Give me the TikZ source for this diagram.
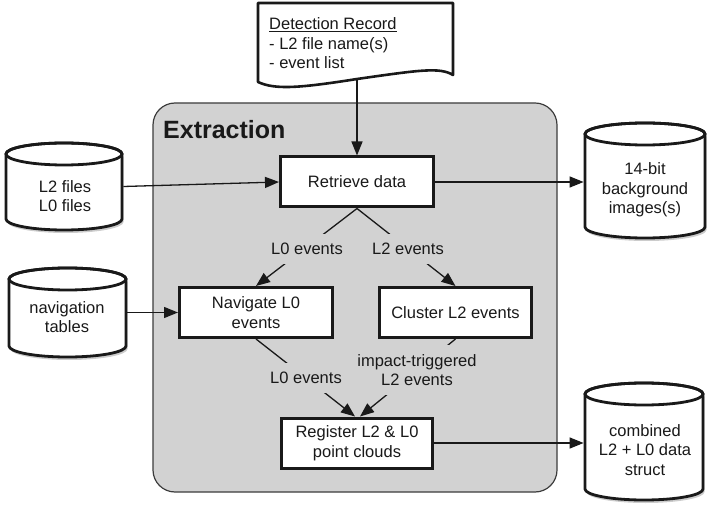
\documentclass[tikz,border=0pt]{standalone}
\usepackage{fontspec}
\setmainfont{Liberation Sans}
\usetikzlibrary{arrows.meta,shadows}
\definecolor{extbg}{RGB}{210,210,210}
\definecolor{ink}{RGB}{25,25,25}
\definecolor{extline}{RGB}{60,60,60}
\tikzset{
  txt/.style={font=\fontsize{16.5}{19.5}\selectfont, text=ink},
  extbox/.style={draw=extline, fill=extbg, line width=1.2pt, rounded corners=22pt, inner sep=0pt},
  procbox/.style={txt, draw=ink, line width=3pt, fill=white, minimum width=153pt, minimum height=50pt, align=center, inner sep=2pt},
  conn/.style={draw=ink, line width=1.3pt, -{Triangle[length=14pt,width=11pt]}},
  lbl/.style={txt, fill=extbg, inner xsep=1pt, inner ysep=9pt, align=center},
  cylfill/.style={fill=white, draw=ink, line width=2.8pt, line join=round,
    drop shadow={shadow xshift=1.5pt, shadow yshift=-3pt, opacity=0.2, fill=black}},
  cylline/.style={draw=ink, line width=2.8pt},
  cylanchor/.style={draw=none, inner sep=0pt, outer sep=1.4pt},
  cyltext/.style={txt, align=center},
  docstyle/.style={draw=ink, fill=white, line width=2.6pt, line join=round},
}
\newcommand\dbcyl[8]{%
  \pgfmathsetmacro\cylrx{(#4-#2)/2}%
  \pgfmathsetmacro\cylcx{(#4+#2)/2}%
  \pgfmathsetmacro\cylcy{(#3+#5)/2}%
  \pgfmathsetmacro\cylh{#5-#3}%
  \pgfmathsetmacro\cylw{#4-#2}%
  \path[cylfill] (#2,#3+11) -- (#2,#5-11)
     arc[start angle=180,end angle=0,x radius=\cylrx,y radius=11]
     -- (#4,#3+11)
     arc[start angle=0,end angle=-180,x radius=\cylrx,y radius=11] -- cycle;
  \draw[cylline] (\cylcx,#3+11) ellipse[x radius=\cylrx, y radius=11];
  \node[cylanchor, minimum width=\cylw pt, minimum height=\cylh pt] (#1) at (\cylcx,\cylcy) {};
  \node[cyltext] (#1t) at (#6,#7) {#8};
}
\begin{document}
\begin{tikzpicture}[x=1pt,y=-1pt]
\useasboundingbox (0,0) rectangle (709,518);

% Extraction container
\node[extbox, minimum width=404pt, minimum height=389pt] (ext) at (355,297.5) {};
\node[anchor=base west, inner sep=0pt, text=ink, font=\bfseries\fontsize{25}{30}\selectfont] (title) at (163,139) {Extraction};

% Detection record document
\path[docstyle] (258,3) -- (453,3) -- (453,75)
  .. controls (440,67) and (420,70) .. (357,79)
  .. controls (300,88) and (275,90) .. (258,82) -- cycle;
\node[txt, anchor=north west, align=left, inner sep=0pt] (doc) at (269,17.5)
  {\underline{Detection Record}\\- L2 file name(s)\\- event list};
\coordinate (docb) at (357,80);

% Cylinders
\dbcyl{l2}{6}{143}{122}{230}{65}{196}{L2 files\\L0 files}
\dbcyl{navt}{9}{268}{126}{357}{67}{317}{navigation\\tables}
\dbcyl{bgimg}{585}{123}{705}{238}{645}{190}{14-bit\\background\\images(s)}
\dbcyl{comb}{585}{383}{703}{500}{645}{450}{combined\\L2 + L0 data\\struct}

% Process boxes
\node[procbox] (ret) at (357,182) {Retrieve data};
\node[procbox] (nav) at (256,312.5) {Navigate L0\\events};
\node[procbox, minimum width=152pt] (clu) at (455.5,312.5) {Cluster L2 events};
\node[procbox, minimum width=151pt] (reg) at (357,443) {Register L2 \& L0\\point clouds};

% Connectors
\draw[conn] (docb) -- (ret.north);
\draw[conn] (l2.east) -- (ret.west);
\draw[conn] (ret.east) -- (ret.east -| bgimg.west);
\draw[conn] (navt.east) -- (nav.west);
\draw[conn] (ret.south) -- (nav.north);
\draw[conn] (ret.south) -- (clu.north);
\draw[conn] (nav.south) -- ([xshift=-2pt]reg.north);
\draw[conn] (clu.south) -- ([xshift=3pt]reg.north);
\draw[conn] (reg.east) -- (reg.east -| comb.west);

% Connector labels
\node[lbl] (lab1) at (307,249) {L0 events};
\node[lbl] (lab2) at (408,249) {L2 events};
\node[lbl] (lab3) at (306,378) {L0 events};
\node[lbl] (lab4) at (417,370) {impact-triggered\\L2 events};
\end{tikzpicture}
\end{document}
